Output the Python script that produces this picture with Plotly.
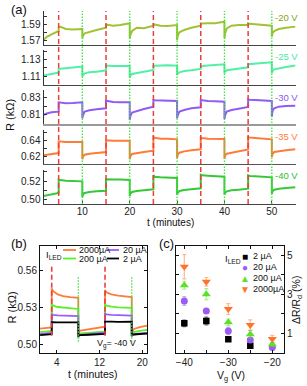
import plotly.graph_objects as go

W, H = 307, 386
FONT = "Liberation Sans, Arial, sans-serif"

# ---------------- Panel (a) data ----------------
t_a = [1.8, 2.5, 3.5, 4.3, 5.0,
       5.0, 5.3, 6.5, 8.0, 10.0,
       10.0, 10.15, 10.5, 11.5, 13.0, 15.0,
       15.0, 15.3, 16.5, 18.0, 20.0,
       20.0, 20.15, 20.5, 21.5, 23.0, 25.0,
       25.0, 25.3, 26.5, 28.0, 30.0,
       30.0, 30.15, 30.5, 31.5, 33.0, 35.0,
       35.0, 35.3, 36.5, 38.0, 40.0,
       40.0, 40.15, 40.5, 41.5, 43.0, 45.0,
       45.0, 45.3, 46.5, 48.0, 50.0,
       50.0, 50.15, 50.5, 51.5, 53.0, 55.0]

r_m20 = [1.5706, 1.5745, 1.5775, 1.5801, 1.5817,
         1.5858, 1.5871, 1.5842, 1.5835, 1.5842,
         1.5727, 1.5760, 1.5789, 1.5809, 1.5830, 1.5858,
         1.5891, 1.5895, 1.5883, 1.5891, 1.5912,
         1.5727, 1.5768, 1.5817, 1.5858, 1.5850, 1.5883,
         1.5900, 1.5895, 1.5883, 1.5879, 1.5891,
         1.5706, 1.5760, 1.5801, 1.5830, 1.5858, 1.5883,
         1.5912, 1.5910, 1.5912, 1.5912, 1.5932,
         1.5727, 1.5789, 1.5850, 1.5883, 1.5891, 1.5891,
         1.5912, 1.5905, 1.5900, 1.5891, 1.5883,
         1.5747, 1.5789, 1.5817, 1.5842, 1.5858, 1.5871]

r_m25 = [1.1108, 1.1118, 1.1128, 1.1136, 1.1143,
         1.1187, 1.1190, 1.1195, 1.1198, 1.1215,
         1.1096, 1.1115, 1.1135, 1.1147, 1.1155, 1.1171,
         1.1227, 1.1225, 1.1223, 1.1223, 1.1222,
         1.1084, 1.1108, 1.1127, 1.1135, 1.1155, 1.1175,
         1.1223, 1.1225, 1.1231, 1.1231, 1.1227,
         1.1115, 1.1135, 1.1147, 1.1163, 1.1171, 1.1187,
         1.1219, 1.1222, 1.1227, 1.1235, 1.1243,
         1.1135, 1.1155, 1.1171, 1.1179, 1.1187, 1.1207,
         1.1243, 1.1244, 1.1246, 1.1250, 1.1266,
         1.1135, 1.1163, 1.1183, 1.1195, 1.1211, 1.1227]

r_m30 = [0.8092, 0.8110, 0.8124, 0.8128, 0.8132,
         0.8244, 0.8240, 0.8232, 0.8236, 0.8244,
         0.8051, 0.8092, 0.8132, 0.8148, 0.8160, 0.8172,
         0.8264, 0.8260, 0.8248, 0.8244, 0.8244,
         0.8031, 0.8083, 0.8120, 0.8140, 0.8164, 0.8192,
         0.8272, 0.8270, 0.8268, 0.8264, 0.8260,
         0.8051, 0.8092, 0.8132, 0.8152, 0.8172, 0.8184,
         0.8272, 0.8268, 0.8260, 0.8256, 0.8252,
         0.8043, 0.8092, 0.8132, 0.8152, 0.8168, 0.8188,
         0.8280, 0.8275, 0.8272, 0.8268, 0.8260,
         0.8071, 0.8140, 0.8172, 0.8192, 0.8200, 0.8204]

r_m35 = [0.6212, 0.6220, 0.6228, 0.6235, 0.6241,
         0.6387, 0.6385, 0.6380, 0.6379, 0.6379,
         0.6162, 0.6195, 0.6220, 0.6233, 0.6241, 0.6254,
         0.6400, 0.6398, 0.6395, 0.6395, 0.6395,
         0.6162, 0.6204, 0.6229, 0.6241, 0.6254, 0.6270,
         0.6441, 0.6433, 0.6420, 0.6420, 0.6412,
         0.6179, 0.6220, 0.6245, 0.6262, 0.6275, 0.6287,
         0.6433, 0.6428, 0.6420, 0.6420, 0.6416,
         0.6170, 0.6212, 0.6233, 0.6245, 0.6262, 0.6287,
         0.6441, 0.6435, 0.6429, 0.6425, 0.6412,
         0.6191, 0.6229, 0.6254, 0.6266, 0.6275, 0.6287]

r_m40 = [0.5036, 0.5045, 0.5055, 0.5063, 0.5069,
         0.5215, 0.5210, 0.5204, 0.5200, 0.5196,
         0.5025, 0.5054, 0.5069, 0.5080, 0.5087, 0.5094,
         0.5218, 0.5216, 0.5215, 0.5215, 0.5211,
         0.5036, 0.5062, 0.5080, 0.5091, 0.5098, 0.5109,
         0.5262, 0.5247, 0.5240, 0.5236, 0.5233,
         0.5051, 0.5072, 0.5091, 0.5102, 0.5109, 0.5120,
         0.5269, 0.5262, 0.5258, 0.5255, 0.5247,
         0.5051, 0.5072, 0.5087, 0.5098, 0.5105, 0.5116,
         0.5262, 0.5255, 0.5251, 0.5247, 0.5240,
         0.5062, 0.5087, 0.5105, 0.5116, 0.5123, 0.5131]

labels_a = ["-20 V", "-25 V", "-30 V", "-35 V", "-40 V"]
series_a = [r_m20, r_m25, r_m30, r_m35, r_m40]
ticks_a = [[1.57, 1.59], [1.11, 1.13], [0.81, 0.83], [0.62, 0.64], [0.50, 0.52]]
minor_a = [[1.58, 1.60], [1.12, 1.14], [0.82], [0.63, 0.65], [0.51, 0.53]]
led_on_a = [5, 15, 25, 35, 45]
led_off_a = [10, 20, 30, 40, 50]
xticks_a = [10, 20, 30, 40, 50]

# ---------------- Panel (b) data ----------------
t_b = [0.9, 2.0, 3.07, 3.07, 3.35, 4.2, 5.2, 6.5, 8.04,
       8.04, 8.15, 8.45, 10.0, 12.0, 13.03,
       13.03, 13.3, 14.2, 15.5, 18.02,
       18.02, 18.12, 18.45, 19.5, 20.93]
r_b_2000 = [0.5128, 0.5132, 0.5138, 0.5457, 0.5435, 0.5408, 0.5394, 0.5386, 0.5381,
            0.5076, 0.5103, 0.5112, 0.5125, 0.5136, 0.5144,
            0.5444, 0.5425, 0.5408, 0.5398, 0.5386,
            0.5085, 0.5103, 0.5125, 0.5140, 0.5152]
r_b_200 = [0.5100, 0.5104, 0.5109, 0.5335, 0.5316, 0.5305, 0.5300, 0.5294, 0.5289,
           0.5049, 0.5081, 0.5090, 0.5096, 0.5100, 0.5103,
           0.5327, 0.5316, 0.5308, 0.5302, 0.5298,
           0.5060, 0.5090, 0.5100, 0.5110, 0.5117]
r_b_20 = [0.5085, 0.5089, 0.5093, 0.5248, 0.5240, 0.5236, 0.5234, 0.5232, 0.5231,
          0.5062, 0.5070, 0.5076, 0.5084, 0.5091, 0.5095,
          0.5254, 0.5244, 0.5240, 0.5238, 0.5234,
          0.5065, 0.5075, 0.5082, 0.5090, 0.5095]
r_b_2 = [0.5074, 0.5078, 0.5082, 0.5180, 0.5181, 0.5179, 0.5180, 0.5181, 0.5180,
         0.5071, 0.5073, 0.5075, 0.5078, 0.5082, 0.5084,
         0.5185, 0.5184, 0.5185, 0.5184, 0.5185,
         0.5076, 0.5078, 0.5080, 0.5084, 0.5087]
led_on_b = [3.07, 13.03]
led_off_b = [8.04, 18.02]
xticks_b = [4, 12, 20]
yticks_b = [0.50, 0.53, 0.56]

# ---------------- Panel (c) data ----------------
vg = [-40, -35, -30, -25, -20]
dr_2 = [1.51, 1.63, 0.69, 0.37, None]
dr_20 = [2.65, 2.14, 1.12, 0.66, 0.27]
dr_200 = [3.46, 3.00, 1.56, 0.95, 0.44]
dr_2000 = [4.40, 3.63, 2.24, 1.42, 0.71]
err_2 = [0.17, 0.20, 0.08, 0.05, None]
err_20 = [0.22, 0.10, 0.19, 0.10, 0.06]
err_200 = [0.20, 0.28, 0.17, 0.20, 0.10]
err_2000 = [0.62, 0.22, 0.28, 0.27, 0.18]
xticks_c = [-40, -30, -20]
xminor_c = [-35, -25]
yticks_c = [1, 3, 5]
yminor_c = [2, 4]

# ---------------- styling ----------------
col_a = ["#a2c234", "#52f0a6", "#8f5cf5", "#ff7b3a", "#36c836"]
col_lab_a = ["#86a424", "#4ae8a0", "#8a58f0", "#ff7b3a", "#30c030"]
col_b = {"2000": "#ff7b3a", "200": "#5cee2c", "20": "#9b5cff", "2": "#000000"}
RED = "#f03c3c"
GRN = "#3fe23f"


def fx(p):
    return p / W


def fy(p):
    return 1 - p / H


fig = go.Figure()

rows_px = [(11, 45), (50, 85), (90, 124), (130, 164), (170, 204)]
ranges_a = [(1.5644, 1.6064), (1.0996, 1.1413), (0.7983, 0.8393),
            (0.6104, 0.6529), (0.4949, 0.5320)]
bottom_line = [("#444444", 1.3), ("#444444", 1.3), ("#9a9a9a", 2.2),
               ("#555555", 1.3), ("#444444", 1.3)]
xa_dom = [fx(43.5), fx(295.5)]

layout_axes = {}
for i in range(5):
    n = i + 1
    fig.add_trace(go.Scatter(x=t_a, y=series_a[i], mode="lines",
                             line=dict(color=col_a[i], width=2),
                             xaxis=f"x{n}", yaxis=f"y{n}", showlegend=False))
    top, bot = rows_px[i]
    xa = dict(
        domain=xa_dom, range=[1.8, 55], anchor=f"y{n}",
        showline=True, linecolor=bottom_line[i][0], linewidth=bottom_line[i][1],
        showgrid=False, zeroline=False, showticklabels=False, ticks="")
    if n == 5:
        xa.update(tickvals=xticks_a, ticks="inside", ticklen=3, showticklabels=True,
                  ticklabelstandoff=-2, tickfont=dict(size=10, color="#222"))
    layout_axes[f"xaxis{n}"] = xa
    layout_axes[f"yaxis{n}"] = dict(
        domain=[fy(bot), fy(top)], range=list(ranges_a[i]), anchor=f"x{n}",
        showline=True, linecolor="#333", linewidth=1,
        showgrid=False, zeroline=False,
        tickvals=ticks_a[i], tickformat=".2f",
        ticks="inside", ticklen=3, tickcolor="#333",
        minor=dict(tickmode="array", tickvals=minor_a[i], ticks="inside",
                   ticklen=3, tickcolor="#333", showgrid=False),
        tickfont=dict(size=10, color="#222"))

shapes = []
for t in led_on_a:
    shapes.append(dict(type="line", xref="x5", yref="paper", x0=t, x1=t,
                       y0=fy(204), y1=fy(11),
                       line=dict(color=RED, width=1.5, dash="5px,3px")))
for t in led_off_a:
    shapes.append(dict(type="line", xref="x5", yref="paper", x0=t, x1=t,
                       y0=fy(204), y1=fy(11),
                       line=dict(color=GRN, width=1.3, dash="1.5px,1.5px")))

# ---------------- panel (b) ----------------
for key, ys in [("2000", r_b_2000), ("200", r_b_200), ("20", r_b_20), ("2", r_b_2)]:
    fig.add_trace(go.Scatter(x=t_b, y=ys, mode="lines",
                             line=dict(color=col_b[key], width=1.8),
                             xaxis="x6", yaxis="y6", showlegend=False))
for t in led_on_b:
    shapes.append(dict(type="line", xref="x6", yref="y6", x0=t, x1=t,
                       y0=0.507, y1=0.564,
                       line=dict(color=RED, width=1.6, dash="5px,3px")))
for t in led_off_b:
    shapes.append(dict(type="line", xref="x6", yref="y6", x0=t, x1=t,
                       y0=0.502, y1=0.555,
                       line=dict(color=GRN, width=1.3, dash="1.5px,1.5px")))

box_axis = dict(showline=True, linecolor="#111", linewidth=1, mirror="ticks",
                showgrid=False, zeroline=False, ticks="inside", ticklen=3,
                tickcolor="#111", tickfont=dict(size=10, color="#222"))
layout_axes["xaxis6"] = dict(box_axis, domain=[fx(40), fx(147.3)],
                             range=[0.88, 20.93], anchor="y6", tickvals=xticks_b)
layout_axes["yaxis6"] = dict(box_axis, domain=[fy(353.3), fy(245.7)],
                             range=[0.4926, 0.5807], anchor="x6",
                             tickvals=yticks_b, tickformat=".2f")

# ---------------- panel (c) ----------------
c_specs = [
    (dr_2, err_2, "square", "#000000", "rgba(0,0,0,0.55)", 6.5),
    (dr_20, err_20, "circle", "#9a5cf2", "rgba(154,92,242,0.5)", 7),
    (dr_200, err_200, "triangle-up", "#5ee02a", "rgba(94,224,42,0.5)", 8),
    (dr_2000, err_2000, "triangle-down", "#ff7428", "rgba(255,116,40,0.5)", 8),
]
for ys, es, sym, colr, ecol, sz in c_specs:
    fig.add_trace(go.Scatter(x=vg, y=ys, mode="markers",
                             marker=dict(symbol=sym, color=colr, size=sz, line=dict(width=0)),
                             error_y=dict(type="data", array=es, color=ecol,
                                          thickness=1.2, width=2),
                             xaxis="x7", yaxis="y7", showlegend=False))
minor_c = dict(tickmode="array", ticks="inside", ticklen=3, tickcolor="#111", showgrid=False)
layout_axes["xaxis7"] = dict(box_axis, domain=[fx(176), fx(284)],
                             range=[-41.89, -17.34], anchor="y7",
                             tickvals=xticks_c, minor=dict(minor_c, tickvals=xminor_c))
layout_axes["yaxis7"] = dict(box_axis, domain=[fy(353.3), fy(245.7)],
                             range=[-0.022, 5.475], anchor="x7", side="right",
                             tickvals=yticks_c, minor=dict(minor_c, tickvals=yminor_c))

# ---------------- annotations ----------------
ann = []


def add_text(text, x, y, size=10, color="#111", xanchor="center", angle=0):
    ann.append(dict(text=text, x=fx(x), y=fy(y), xref="paper", yref="paper",
                    showarrow=False, xanchor=xanchor, yanchor="middle",
                    textangle=angle, font=dict(size=size, color=color, family=FONT)))


add_text("(a)", 9, 9.5, size=13, xanchor="left")
add_text("(b)", 9, 243, size=13, xanchor="left")
add_text("(c)", 157, 243, size=13, xanchor="left")
add_text("R (kΩ)", 10, 115, size=11, angle=-90)
add_text("t (minutes)", 170, 222.5, size=10)
label_y = [17, 57, 97, 137, 175.5]
for i in range(5):
    add_text(labels_a[i], 273, label_y[i], size=9.5, color=col_lab_a[i], xanchor="left")

add_text("R (kΩ)", 11.5, 308, size=11, angle=-90)
add_text("t (minutes)", 92.5, 374, size=10.5)
add_text("I<sub>LED</sub>", 43.5, 255, size=9.5, xanchor="left")
add_text("2000µA", 76.5, 250, size=9, xanchor="left")
add_text("20 µA", 120.5, 250, size=9, xanchor="left")
add_text("200 µA", 76.5, 258.5, size=9, xanchor="left")
add_text("2 µA", 120.5, 258.5, size=9, xanchor="left")
add_text("V<sub>g</sub>= -40 V", 94.5, 344, size=9, xanchor="left")
leg_b = [(63, 76, 250, col_b["2000"]), (107, 119, 250, col_b["20"]),
         (63, 76, 258.5, col_b["200"]), (107, 119, 258.5, col_b["2"])]
for x0, x1, yy, cc in leg_b:
    shapes.append(dict(type="line", xref="paper", yref="paper",
                       x0=fx(x0), x1=fx(x1), y0=fy(yy), y1=fy(yy),
                       line=dict(color=cc, width=1.8)))

add_text("V<sub>g</sub> (V)", 231, 375.5, size=10.5)
add_text("ΔR/R<sub>d</sub> (%)", 297, 300, size=10.5, angle=-90)
add_text("I<sub>LED</sub>", 222.5, 259, size=9.5, xanchor="left")
leg_c = [("■", "#000000", "2 µA", 256), ("●", "#9a5cf2", "20 µA", 267.3),
         ("▲", "#5ee02a", "200 µA", 278.3), ("▼", "#ff7428", "2000µA", 289)]
for sym, cc, txt, yy in leg_c:
    add_text(sym, 245, yy, size=10, color=cc)
    add_text(txt, 250.5, yy, size=9, xanchor="left")

fig.update_layout(
    width=W, height=H, margin=dict(l=0, r=0, t=0, b=0),
    paper_bgcolor="white", plot_bgcolor="rgba(0,0,0,0)",
    font=dict(family=FONT, size=10, color="#222"),
    showlegend=False, shapes=shapes, annotations=ann,
    **layout_axes)

fig.write_html("out.html", config={"displayModeBar": False},
               post_script="document.body.style.margin='0';document.body.style.overflow='hidden';")
